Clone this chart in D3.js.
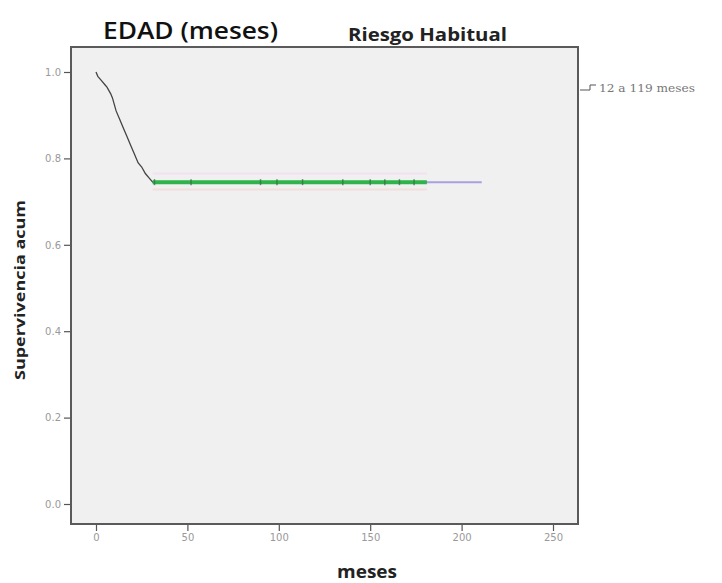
<!DOCTYPE html>
<html><head><meta charset="utf-8">
<script src="https://cdn.jsdelivr.net/npm/d3@7/dist/d3.min.js"></script>
<style>body{margin:0;background:#fff}svg{display:block}</style>
</head><body>
<script>
// Data
const months = [0, 1, 3, 5, 6, 8, 9, 11, 13, 15, 17, 19, 21, 23, 25, 27, 29, 31, 181, 211];
const survival = [1.0, 0.99, 0.98, 0.97, 0.965, 0.95, 0.94, 0.91, 0.89, 0.87, 0.85, 0.83, 0.81, 0.79, 0.78, 0.765, 0.755, 0.745, 0.745, 0.745];
const censored = [32, 52, 90, 99, 113, 135, 150, 158, 166, 174];
const censorSpan = [31, 181];
const xTicks = [0, 50, 100, 150, 200, 250];
const yTicks = [0, 0.2, 0.4, 0.6, 0.8, 1.0];
const legendLabel = "12 a 119 meses";

const W = 722, H = 583;
const svg = d3.select("body").append("svg").attr("width", W).attr("height", H);
const frame = {x0: 71, x1: 578, y0: 47, y1: 524};
const x = d3.scaleLinear().domain([0, 250]).range([96, 553]);
const y = d3.scaleLinear().domain([0, 1]).range([504, 72]);

svg.append("rect").attr("x", frame.x0).attr("y", frame.y0)
  .attr("width", frame.x1 - frame.x0).attr("height", frame.y1 - frame.y0)
  .attr("fill", "#f0f0f0").attr("stroke", "#5a5a5a").attr("stroke-width", 2);

// Axes
const yAxis = svg.append("g").attr("transform", `translate(${frame.x0 - 1},0)`)
  .call(d3.axisLeft(y).tickValues(yTicks).tickFormat(d3.format(".1f")).tickSize(6));
const xAxis = svg.append("g").attr("transform", `translate(0,${frame.y1 + 1})`)
  .call(d3.axisBottom(x).tickValues(xTicks).tickFormat(d3.format("d")).tickSize(6));
[yAxis, xAxis].forEach(a => {
  a.select(".domain").remove();
  a.selectAll(".tick line").attr("stroke", "#555").attr("stroke-width", 1.2);
  a.selectAll(".tick text").attr("fill", "#999").attr("font-family", "DejaVu Sans, sans-serif").attr("font-size", 10);
});

// Survival step curve
const pts = months.map((m, i) => [m, survival[i]]);
const line = d3.line().x(d => x(d[0])).y(d => y(d[1])).curve(d3.curveLinear);
svg.append("path").datum(pts.slice(0, pts.length - 1)).attr("d", line)
  .attr("fill", "none").attr("stroke", "#444").attr("stroke-width", 1.3);
// tail segment (light purple)
svg.append("path").datum(pts.slice(pts.length - 2)).attr("d", line)
  .attr("fill", "none").attr("stroke", "#a9a0e0").attr("stroke-width", 2);

// faint halo lines
[0.765, 0.728].forEach((v, i) => {
  svg.append("line").attr("x1", x(censorSpan[0])).attr("x2", x(censorSpan[1]))
    .attr("y1", y(v)).attr("y2", y(v))
    .attr("stroke", i ? "#f3dede" : "#f3e0f0").attr("stroke-width", 2);
});

// censored band
svg.append("line").attr("x1", x(censorSpan[0])).attr("x2", x(censorSpan[1]))
  .attr("y1", y(survival[survival.length - 1])).attr("y2", y(survival[survival.length - 1]))
  .attr("stroke", "#2fb34a").attr("stroke-width", 4);
svg.selectAll(".cens").data(censored).enter().append("line")
  .attr("x1", d => x(d)).attr("x2", d => x(d))
  .attr("y1", y(0.745) - 3).attr("y2", y(0.745) + 3)
  .attr("stroke", "#3b7347").attr("stroke-width", 1.5).attr("opacity", 0.8);

// Titles
svg.append("text").attr("x", 103).attr("y", 39).text("EDAD (meses)")
  .attr("textLength", 175).attr("lengthAdjust", "spacingAndGlyphs")
  .attr("font-family", "Open Sans, sans-serif").attr("font-size", 23).attr("font-weight", 600).attr("fill", "#111");
svg.append("text").attr("x", 348).attr("y", 41).text("Riesgo Habitual")
  .attr("textLength", 159).attr("lengthAdjust", "spacingAndGlyphs")
  .attr("font-family", "Open Sans, sans-serif").attr("font-size", 17).attr("font-weight", 700).attr("fill", "#222");
svg.append("text").attr("transform", "translate(25,290) rotate(-90)").attr("text-anchor", "middle")
  .text("Supervivencia acum")
  .attr("textLength", 180).attr("lengthAdjust", "spacingAndGlyphs")
  .attr("font-family", "Open Sans, sans-serif").attr("font-size", 15).attr("font-weight", 700).attr("fill", "#222");
svg.append("text").attr("x", 367).attr("y", 578).attr("text-anchor", "middle").text("meses")
  .attr("textLength", 60).attr("lengthAdjust", "spacingAndGlyphs")
  .attr("font-family", "Open Sans, sans-serif").attr("font-size", 17).attr("font-weight", 700).attr("fill", "#222");

// Legend
svg.append("path").attr("d", "M580,90 H590 V85 H596")
  .attr("fill", "none").attr("stroke", "#555").attr("stroke-width", 1);
svg.append("text").attr("x", 599).attr("y", 92).text(legendLabel)
  .attr("textLength", 96).attr("lengthAdjust", "spacingAndGlyphs")
  .attr("font-family", "DejaVu Serif, serif").attr("font-size", 10.5).attr("fill", "#777");
</script>
</body></html>
